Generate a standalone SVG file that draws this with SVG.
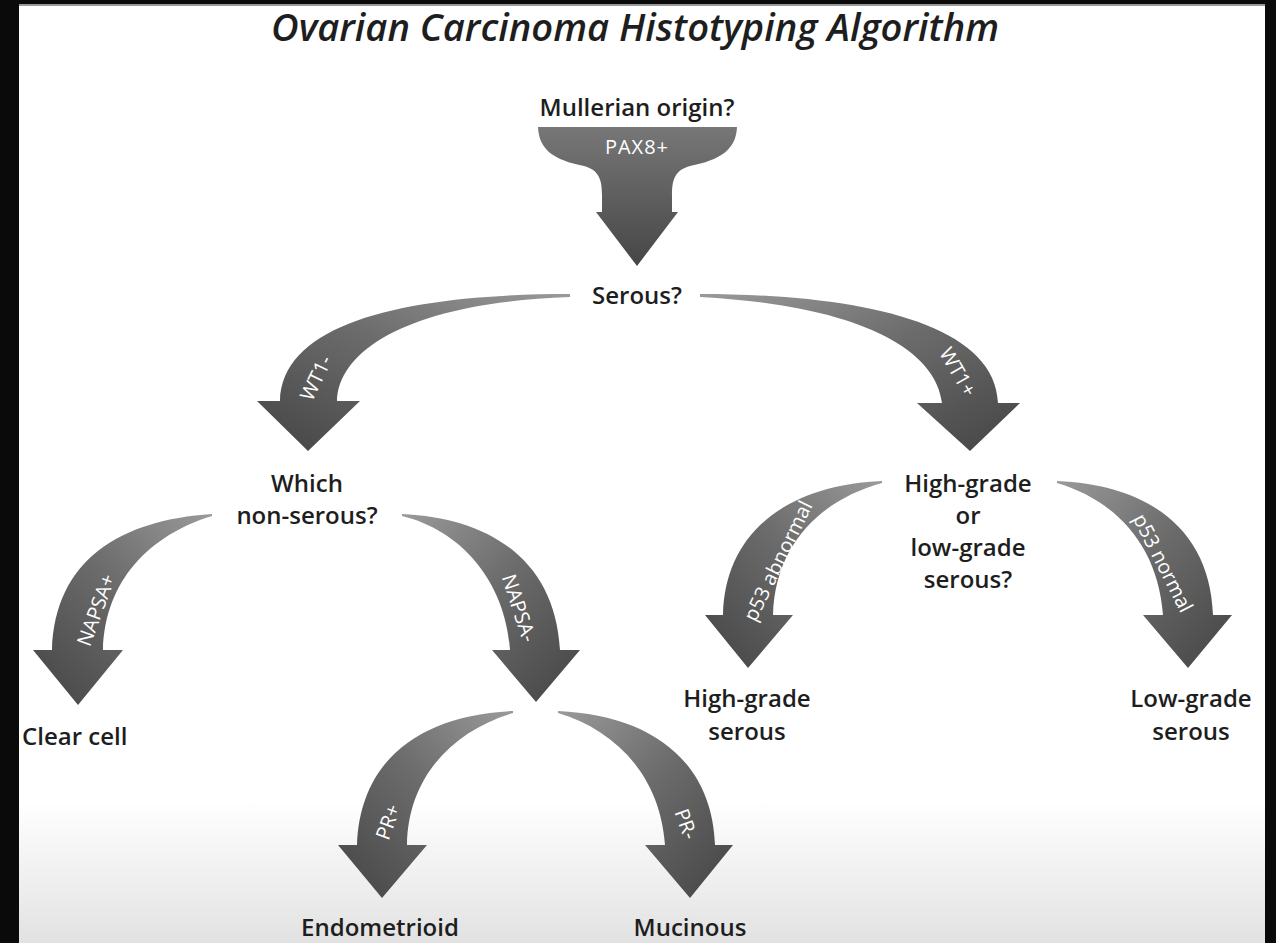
<svg xmlns="http://www.w3.org/2000/svg" width="1276" height="943" viewBox="0 0 1276 943">
<defs>
<linearGradient id="bg" x1="0" y1="0" x2="0" y2="943" gradientUnits="userSpaceOnUse">
<stop offset="0" stop-color="#ffffff"/>
<stop offset="0.85" stop-color="#ffffff"/>
<stop offset="1" stop-color="#e2e2e2"/>
</linearGradient>
<linearGradient id="gFunnel" x1="0" y1="0" x2="0" y2="1">
<stop offset="0" stop-color="#777777"/>
<stop offset="1" stop-color="#464646"/>
</linearGradient>
<linearGradient id="gL" x1="1" y1="0" x2="0" y2="1">
<stop offset="0" stop-color="#9a9a9a"/>
<stop offset="0.45" stop-color="#6c6c6c"/>
<stop offset="1" stop-color="#444444"/>
</linearGradient>
<linearGradient id="gR" x1="0" y1="0" x2="1" y2="1">
<stop offset="0" stop-color="#9a9a9a"/>
<stop offset="0.45" stop-color="#6c6c6c"/>
<stop offset="1" stop-color="#444444"/>
</linearGradient>
</defs>
<style>
.t{font-family:"Open Sans","Liberation Sans",sans-serif;font-weight:600;font-size:24px;fill:#1e1e1e;text-anchor:middle}
.lab{font-family:"Open Sans","Liberation Sans",sans-serif;font-weight:400;font-size:20px;fill:#ffffff;text-anchor:middle}
.title{font-family:"Open Sans","Liberation Sans",sans-serif;font-weight:600;font-style:italic;font-size:37px;fill:#1e1e1e;text-anchor:middle}
</style>
<rect x="0" y="0" width="1276" height="943" fill="#0a0a0a"/>
<rect x="19" y="4" width="1246" height="939" fill="url(#bg)"/>
<rect x="19" y="4" width="1246" height="2" fill="#9a9a9a"/>
<text class="title" x="635" y="41" textLength="728" lengthAdjust="spacingAndGlyphs">Ovarian Carcinoma Histotyping Algorithm</text>

<g id="connectors">
<g id="e-pax8">
<path d="M538,127 L737,127 C736,150 720,160 690,166 C676,170 672,178 672,195 L672,212 L678,212 L637,266 L596,212 L602,212 L602,195 C602,178 598,170 584,166 C554,160 539,150 538,127 Z" fill="url(#gFunnel)"/>
<text class="lab" x="637" y="154" font-size="19" letter-spacing="1">PAX8+</text>
</g>
<g id="e-wt1neg">
<path d="M570,294 C420,294 282,318 280,401 L257,401 L308,451 L360,401 L337,401 C339,345 420,302 570,297 Z" fill="url(#gL)"/>
<text class="lab" transform="translate(316,378) rotate(-64)" y="7">WT1-</text>
</g>
<g id="e-wt1pos">
<path d="M700,294 C850,294 995,320 998,403 L1020,403 L970,451 L917,403 L942,403 C935,345 850,305 700,297 Z" fill="url(#gR)"/>
<text class="lab" transform="translate(958,372) rotate(60)" y="7">WT1+</text>
</g>
<g id="e-napsapos">
<path d="M212,514 C120,520 55,560 52,650 L33,650 L78,705 L123,650 L103,650 C105,580 150,535 212,516 Z" fill="url(#gL)"/>
<text class="lab" transform="translate(96,610) rotate(-70)" y="7">NAPSA+</text>
</g>
<g id="e-napsaneg">
<path d="M402,514 C490,518 555,560 560,650 L580,650 L536,702 L492,650 L510,650 C505,580 460,530 402,516 Z" fill="url(#gR)"/>
<text class="lab" transform="translate(519,608) rotate(72)" y="7">NAPSA-</text>
</g>
<g id="e-p53abn">
<path d="M882,481 C790,485 725,530 723,615 L705,615 L748,668 L793,615 L773,615 C775,545 820,500 882,483 Z" fill="url(#gL)"/>
<text class="lab" transform="translate(778,561) rotate(-64)" y="7" font-size="19">p53 abnormal</text>
</g>
<g id="e-p53norm">
<path d="M1057,481 C1150,485 1210,530 1213,615 L1232,615 L1188,668 L1143,615 L1163,615 C1158,545 1115,500 1057,483 Z" fill="url(#gR)"/>
<text class="lab" transform="translate(1163,563) rotate(63)" y="7" font-size="19">p53 normal</text>
</g>
<g id="e-prpos">
<path d="M513,711 C420,715 360,760 357,845 L338,845 L382,898 L427,845 L407,845 C408,775 455,730 513,713 Z" fill="url(#gL)"/>
<text class="lab" transform="translate(388,822) rotate(-70)" y="7">PR+</text>
</g>
<g id="e-prneg">
<path d="M558,711 C650,715 712,760 715,845 L733,845 L690,898 L645,845 L665,845 C660,775 615,730 558,713 Z" fill="url(#gR)"/>
<text class="lab" transform="translate(686,824) rotate(70)" y="7">PR-</text>
</g>
</g>

<g id="n-mullerian"><text class="t" x="637" y="116">Mullerian origin?</text></g>
<g id="n-serous"><text class="t" x="637" y="304">Serous?</text></g>
<g id="n-nonserous"><text class="t" x="307" y="492">Which</text><text class="t" x="307" y="524">non-serous?</text></g>
<g id="n-grade"><text class="t" x="968" y="492">High-grade</text><text class="t" x="968" y="524">or</text><text class="t" x="968" y="556">low-grade</text><text class="t" x="968" y="588">serous?</text></g>
<g id="n-clearcell"><text class="t" x="22" y="745" style="text-anchor:start">Clear cell</text></g>
<g id="n-hgs"><text class="t" x="747" y="707">High-grade</text><text class="t" x="747" y="740">serous</text></g>
<g id="n-lgs"><text class="t" x="1191" y="707">Low-grade</text><text class="t" x="1191" y="740">serous</text></g>
<g id="n-endometrioid"><text class="t" x="380" y="936">Endometrioid</text></g>
<g id="n-mucinous"><text class="t" x="690" y="936">Mucinous</text></g>
</svg>
